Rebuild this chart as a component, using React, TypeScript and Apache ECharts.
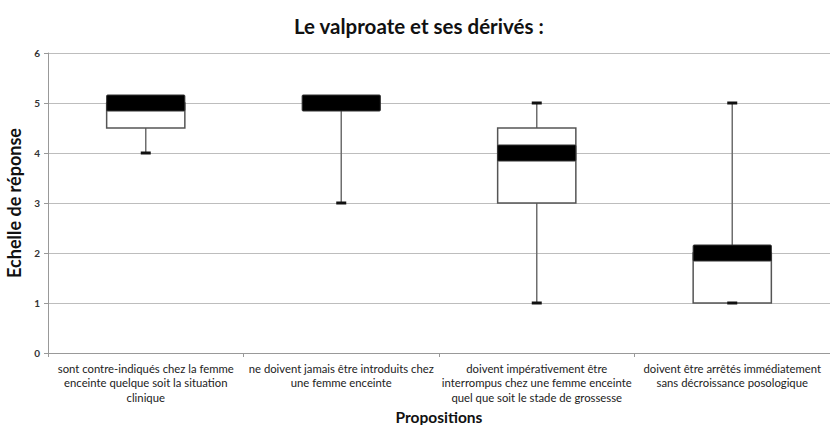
import React, { useEffect, useRef } from "react";
import * as echarts from "echarts";

const title = "Le valproate et ses dérivés :";
const yAxisName = "Echelle de réponse";
const xAxisName = "Propositions";
const categories = [
  "sont contre-indiqués chez la femme\nenceinte quelque soit la situation\nclinique",
  "ne doivent jamais être introduits chez\nune femme enceinte",
  "doivent impérativement être\ninterrompus chez une femme enceinte\nquel que soit le stade de grossesse",
  "doivent être arrêtés immédiatement\nsans décroissance posologique",
];
// [min, Q1, median, Q3, max]
const mins = [4, 3, 1, 1];
const q1s = [4.5, 5, 3, 1];
const medians = [5, 5, 4, 2];
const q3s = [5, 5, 4.5, 2];
const maxs = [5, 5, 5, 5];

const FONT = "Lato, 'Open Sans', sans-serif";

export default function App() {
  const ref = useRef<HTMLDivElement>(null);
  useEffect(() => {
    document.body.style.margin = "0";
    if (!ref.current) return;
    const chart = echarts.init(ref.current, undefined, { renderer: "svg" });
    const data = categories.map((_, i) => [i, mins[i], q1s[i], medians[i], q3s[i], maxs[i]]);
    chart.setOption({
      animation: false,
      backgroundColor: "#fff",
      title: {
        text: title,
        left: 289,
        top: 10,
        textStyle: { fontFamily: FONT, fontWeight: "bold", fontSize: 20.5, color: "#111" },
      },
      grid: { left: 48, right: 0, top: 53, bottom: 72, outerBoundsMode: "none", containLabel: false },
      xAxis: {
        type: "category",
        data: categories,
        name: xAxisName,
        nameLocation: "middle",
        nameGap: 55,
        nameTextStyle: { fontFamily: FONT, fontWeight: "bold", fontSize: 15.5, color: "#111" },
        axisLine: { lineStyle: { color: "#999", width: 1 } },
        axisTick: { show: true, length: 4, lineStyle: { color: "#999" } },
        axisLabel: {
          interval: 0,
          fontFamily: FONT,
          fontSize: 11.3,
          lineHeight: 14.5,
          color: "#222",
          margin: 8,
        },
        splitLine: { show: false },
      },
      yAxis: {
        type: "value",
        min: 0,
        max: 6,
        interval: 1,
        name: yAxisName,
        nameLocation: "middle",
        nameRotate: 90,
        nameGap: 24,
        nameTextStyle: { fontFamily: FONT, fontWeight: "bold", fontSize: 18, color: "#111" },
        axisLine: { show: true, lineStyle: { color: "#999", width: 1 } },
        axisTick: { show: true, length: 4, inside: false, lineStyle: { color: "#999" } },
        axisLabel: { fontFamily: FONT, fontSize: 10, fontWeight: "bold", color: "#333", margin: 8 },
        splitLine: { show: true, lineStyle: { color: "#bdbdbd", width: 1 } },
      },
      series: [
        {
          type: "custom",
          data,
          encode: { x: 0, y: [1, 2, 3, 4, 5] },
          renderItem: (params: any, api: any) => {
            const idx = api.value(0);
            const p = (v: number) => api.coord([idx, v]);
            const band = api.size([1, 0])[0];
            const bw = band * 0.4;
            const x = p(api.value(3))[0];
            const yMin = p(api.value(1))[1];
            const yQ1 = p(api.value(2))[1];
            const yMed = p(api.value(3))[1];
            const yQ3 = p(api.value(4))[1];
            const yMax = p(api.value(5))[1];
            const wStyle = { stroke: "#6e6e6e", lineWidth: 1.5, fill: null };
            const children: any[] = [
              { type: "line", shape: { x1: x, y1: yMax, x2: x, y2: yQ3 }, style: wStyle },
              { type: "line", shape: { x1: x, y1: yQ1, x2: x, y2: yMin }, style: wStyle },
              {
                type: "rect",
                shape: { x: x - bw / 2, y: yQ3, width: bw, height: yQ1 - yQ3 },
                style: { fill: "#fff", stroke: "#555", lineWidth: 1.5 },
              },
              { type: "rect", shape: { x: x - 5, y: yMin - 1.5, width: 10, height: 3 }, style: { fill: "#111" } },
              { type: "rect", shape: { x: x - 5, y: yMax - 1.5, width: 10, height: 3 }, style: { fill: "#111" } },
              {
                type: "rect",
                shape: { x: x - bw / 2, y: yMed - 8, width: bw, height: 16, r: 1 },
                style: { fill: "#000", stroke: "#333", lineWidth: 1 },
              },
            ];
            return { type: "group", children };
          },
        },
      ],
    });
    return () => chart.dispose();
  }, []);
  return <div ref={ref} style={{ width: 830, height: 425 }} />;
}
